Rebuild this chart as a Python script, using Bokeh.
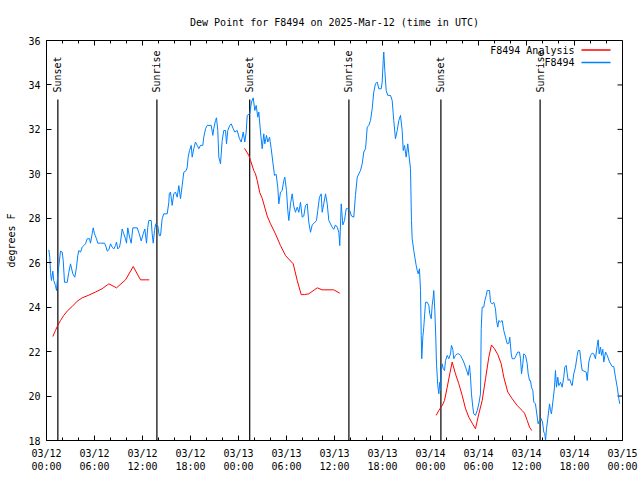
import math
from bokeh.plotting import figure
from bokeh.models import Range1d, FixedTicker, LinearAxis, ColumnDataSource
from bokeh.core.properties import value
from bokeh.embed import file_html
from bokeh.resources import INLINE

FONT = "DejaVu Sans Mono"
NAN = float("nan")

# ---------------- data (x = hours since 2025-03-12 00:00 UTC) ----------------
obs_hours = [0.29, 0.41, 0.5, 0.62, 0.79, 0.91, 1.12, 1.25, 1.41, 1.75, 1.96, 2.09, 2.25, 2.59, 2.79, 3.0,
             3.29, 3.54, 3.75, 3.91, 4.04, 4.25, 4.46, 4.66, 4.88, 5.09, 5.38, 5.5, 5.71, 5.84, 6.0, 6.25,
             6.41, 6.75, 7.25, 7.46, 7.59, 7.79, 8.0, 8.21, 8.41, 8.62, 8.75, 8.91, 9.12, 9.25, 9.46, 9.66,
             9.88, 10.0, 10.16, 10.38, 10.59, 10.79, 11.34, 11.59, 11.84, 12.09, 12.29, 12.5, 12.66, 12.79,
             13.09, 13.21, 13.34, 13.5, 13.66, 13.91, 14.09, 14.25, 14.46, 14.66, 15.09, 15.29, 15.35, 15.5,
             15.71, 15.91, 16.12, 16.34, 16.54, 16.75, 16.96, 17.16, 17.46, 17.59, 17.71, 17.88, 18.09, 18.21,
             18.41, 18.62, 18.84, 19.04, 19.25, 19.54, 19.66, 19.88, 20.09, 20.59, 20.79, 20.91, 21.12, 21.25,
             21.41, 21.54, 21.75, 21.96, 22.16, 22.38, 22.5, 22.66, 22.91, 23.09, 23.34, 23.54, 23.84, 24.12,
             24.34, 24.59, 24.79, 24.96, 25.09, 25.41, 25.62, 25.84, 26.04, 26.21, 26.41, 26.54, 26.75, 26.96,
             27.16, 27.29, 27.5, 27.66, 27.88, 28.09, 28.29, 28.5, 28.71, 28.91, 29.04, 29.25, 29.46, 29.66,
             29.79, 30.0, 30.16, 30.29, 30.5, 30.71, 30.91, 31.12, 31.34, 31.54, 31.75, 31.96, 32.16, 32.38,
             32.59, 32.79, 33.0, 33.21, 33.5, 33.75, 33.91, 34.12, 34.34, 34.46, 34.66, 34.88, 35.09, 35.29,
             35.5, 35.71, 35.91, 36.12, 36.34, 36.54, 36.66, 36.84, 37.04, 37.25, 37.46, 37.66, 37.91, 38.12,
             38.41, 38.62, 38.84, 39.04, 39.25, 39.46, 39.66, 39.88, 40.09, 40.29, 40.5, 40.71, 40.91, 41.12,
             41.34, 41.54, 41.84, 41.96, 42.09, 42.16, 42.29, 42.46, 42.66, 43.0, 43.21, 43.41, 43.62, 43.84,
             44.04, 44.25, 44.46, 44.59, 44.75, 44.96, 45.16, 45.29, 45.5, 45.62, 45.71, 45.91, 46.04, 46.21,
             46.34, 46.46, 46.62, 46.75, 46.84, 46.91, 47.04, 47.16, 47.38, 47.59, 47.79, 47.91, 48.09, 48.21,
             48.34, 48.41, 48.54, 48.66, 48.75, 48.91, 49.04, 49.16, 49.25, 49.34, 49.46, 49.59, 49.75, 49.88,
             50.09, 50.29, 50.5, 50.62, 50.79, 50.91, 51.12, 51.34, 51.54, 51.75, 51.96, 52.16, 52.38, 52.59,
             52.71, 52.88, 53.0, 53.12, 53.29, 53.41, 53.62, 53.84, 54.04, 54.25, 54.34, 54.46, 54.66, 54.79,
             54.96, 55.09, 55.38, 55.5, 55.71, 55.91, 56.12, 56.25, 56.41, 56.54, 56.75, 56.96, 57.16, 57.38,
             57.59, 57.79, 57.91, 58.09, 58.21, 58.5, 58.71, 58.91, 59.12, 59.25, 59.38, 59.54, 59.66, 59.88,
             60.09, 60.21, 60.38, 60.5, 60.62, 60.79, 60.91, 61.12, 61.34, 61.46, 61.62, 61.84, 62.0, 62.16,
             62.29, 62.38, 62.5, 62.66, 62.88, 63.0, 63.12, 63.34, 63.5, 63.62, 63.75, 63.91, 64.04, 64.25,
             64.46, 64.66, 64.79, 64.96, 65.09, 65.21, 65.38, 65.59, 65.71, 65.91, 66.12, 66.34, 66.46, 66.66,
             66.84, 66.96, 67.16, 67.46, 67.59, 67.79, 68.0, 68.21, 68.41, 68.62, 68.84, 68.96, 69.09, 69.25,
             69.38, 69.54, 69.66, 69.88, 70.09, 70.38, 70.71, 70.91, 71.12, 71.34, 71.54, 71.66]
obs_dewpt = [26.58, 26.25, 25.57, 25.2, 25.62, 25.2, 24.97, 24.75, 25.43, 26.52, 26.48, 26.1, 25.12, 25.12, 25.57, 25.95,
             25.5, 25.35, 25.8, 26.32, 26.55, 26.48, 26.7, 26.77, 26.85, 27.08, 27.08, 26.88, 27.3, 27.57, 27.3, 27.08,
             26.88, 26.88, 26.88, 26.7, 26.52, 26.58, 26.85, 26.7, 26.62, 26.77, 26.93, 26.62, 26.7, 26.93, 27.52, 27.3,
             27.08, 26.88, 27.57, 27.15, 26.88, 27.57, 27.57, 27.3, 26.98, 27.3, 27.52, 26.88, 27.6, 27.9,
             27.9, 27.3, 26.88, 27.45, 27.75, 27.67, 27.22, 27.22, 27.98, 28.2, 28.2, 28.72, 29.1, 29.18,
             28.58, 29.1, 29.18, 28.95, 29.47, 28.88, 29.47, 30.07, 30.15, 30.3, 30.75, 31.05, 31.28, 30.75,
             31.13, 31.43, 31.28, 31.13, 31.28, 31.28, 31.65, 32.03, 32.18, 32.18, 31.73, 32.03, 32.4, 32.52,
             31.95, 30.75, 30.45, 31.5, 31.95, 31.95, 31.35, 31.95, 32.18, 32.25, 32.03, 31.88, 31.95, 31.58,
             31.43, 31.88, 31.43, 31.88, 32.63, 32.7, 33.23, 33.42, 32.85, 33.08, 32.55, 32.78, 31.88, 31.13,
             31.8, 31.35, 31.73, 31.43, 31.65, 31.13, 30.53, 29.93, 29.98, 29.4, 28.65, 29.18, 29.25, 29.7,
             29.85, 29.25, 28.35, 27.9, 28.65, 29.1, 28.55, 28.27, 28.5, 28.27, 28.72, 28.05, 28.1, 28.58,
             28.65, 27.82, 27.37, 27.7, 27.8, 27.9, 28.35, 28.95, 29.1, 28.27, 28.65, 29.1, 28.65, 27.9,
             27.75, 27.6, 27.5, 27.7, 27.6, 27.37, 26.77, 28.65, 27.7, 27.9, 28.43, 28.43, 28.35, 28.1,
             28.05, 29.03, 29.85, 30.0, 30.15, 30.45, 30.98, 31.13, 32.1, 32.18, 32.4, 32.93, 33.68, 34.05,
             34.13, 33.83, 33.83, 34.13, 35.1, 35.48, 34.65, 33.75, 33.53, 33.53, 33.3, 32.4, 31.58, 31.95,
             32.4, 32.63, 31.95, 31.05, 31.28, 30.75, 31.35, 30.9, 30.23, 27.9, 27.08, 26.55, 26.25, 25.88,
             25.65, 25.5, 25.73, 24.75, 22.73, 21.68, 22.65, 23.1, 24.22, 24.22, 24.08, 23.7, 23.48, 24.08,
             24.45, 24.75, 23.85, 22.65, 21.45, 20.47, 20.1, 20.62, 20.25, 21.15, 21.45, 21.23, 21.15, 21.6,
             21.83, 21.68, 21.9, 22.28, 22.1, 21.68, 21.83, 21.9, 21.9, 21.83, 21.68, 21.53, 21.3, 21.08,
             20.93, 21.38, 20.85, 20.1, 19.5, 19.2, 19.13, 19.35, 19.65, 20.1, 23.03, 24.0, 24.0, 24.3,
             24.52, 24.75, 24.75, 24.22, 24.15, 24.22, 23.93, 23.4, 23.1, 23.4, 23.33, 23.4, 22.95, 22.65,
             22.35, 22.38, 22.65, 21.9, 21.68, 21.68, 21.83, 21.98, 21.98, 21.68, 21.0, 21.45, 21.9, 21.83,
             21.45, 21.0, 20.7, 20.7, 20.4, 20.25, 19.73, 19.65, 19.05, 18.75, 18.9, 18.98, 18.83, 18.38,
             18.3, 18.0, 18.53, 18.98, 19.65, 19.35, 19.2, 19.88, 20.4, 21.15, 20.4, 20.85, 20.47, 20.62,
             20.4, 20.85, 21.3, 21.38, 21.0, 20.7, 20.77, 20.55, 20.47, 21.0, 21.3, 21.83, 22.05, 22.05,
             21.45, 21.15, 21.13, 21.08, 20.7, 21.53, 21.83, 21.93, 21.9, 21.68, 22.28, 22.53, 21.9, 22.2,
             21.83, 22.1, 21.53, 21.98, 21.83, 21.53, 21.33, 21.33, 20.85, 20.4, 19.88, 19.65]

ana_hours = [0.79, 1.12, 1.41, 1.75, 2.16, 2.66, 3.21, 3.84, 4.46, 5.29, 6.12, 6.96, 7.79, 8.75, 9.88, 10.84,
             11.75, 12.84, NAN,
             24.75, 25.29, 25.5, 25.91, 26.12, 26.34, 26.66, 26.96, 27.59, 28.0, 28.62, 29.25, 29.88, 30.84,
             31.34, 31.84, 32.25, 32.79, 33.84, 34.46, 35.91, 36.66, NAN,
             48.71, 49.04, 49.46, 49.75, 50.09, 50.41, 50.71, 51.12, 51.54, 51.96, 52.38, 52.79, 53.21, 53.62,
             54.04, 54.46, 54.88, 55.29, 55.62, 56.0, 56.41, 56.84, 57.16, 57.66, 58.21, 58.84, 59.46, 59.75,
             60.09, 60.38, 60.66]
ana_dewpt = [22.68, 22.95, 23.18, 23.4, 23.63, 23.85, 24.03, 24.27, 24.42, 24.54, 24.68, 24.83, 25.05, 24.87, 25.23, 25.83,
             25.23, 25.23, NAN,
             31.15, 30.83, 30.6, 30.15, 30.0, 29.7, 29.15, 28.9, 28.1, 27.75, 27.3, 26.77, 26.32, 25.95,
             25.2, 24.56, 24.57, 24.6, 24.87, 24.78, 24.78, 24.63, NAN,
             19.13, 19.35, 19.57, 19.8, 20.4, 21.0, 21.53, 21.0, 20.55, 20.03, 19.43, 19.05, 18.78, 18.53,
             19.2, 19.8, 20.78, 21.75, 22.3, 22.13, 21.87, 21.45, 20.85, 20.18, 19.88, 19.57, 19.35, 19.23,
             18.9, 18.6, 18.45]

sun_hours = [1.42, 13.8, 25.4, 37.8, 49.3, 61.7]
sun_labels = ["Sunset", "Sunrise", "Sunset", "Sunrise", "Sunset", "Sunrise"]

x_tick_hours = [0, 6, 12, 18, 24, 30, 36, 42, 48, 54, 60, 66, 72]
x_tick_labels = ["03/12\n00:00", "03/12\n06:00", "03/12\n12:00", "03/12\n18:00",
                 "03/13\n00:00", "03/13\n06:00", "03/13\n12:00", "03/13\n18:00",
                 "03/14\n00:00", "03/14\n06:00", "03/14\n12:00", "03/14\n18:00",
                 "03/15\n00:00"]
x_minor_hours = list(range(0, 73, 2))
y_ticks = [18, 20, 22, 24, 26, 28, 30, 32, 34, 36]

series_names = ["F8494 Analysis", "F8494"]
series_colors = ["#ff0000", "#0080ff"]

X0, X1, Y0, Y1 = 0, 72, 18, 36

# ---------------- layout ----------------
W, H = 640, 480
BL, BR, BT, BB = 46, 18, 40, 40
FW, FH = W - BL - BR, H - BT - BB          # frame size in px
PX_X = (X1 - X0) / FW                      # data units per px
PX_Y = (Y1 - Y0) / FH

p = figure(width=W, height=H, output_backend="svg", toolbar_location=None,
           x_range=Range1d(X0, X1), y_range=Range1d(Y0, Y1),
           x_axis_type=None, y_axis_type=None,
           min_border_left=BL, min_border_right=BR, min_border_top=BT, min_border_bottom=BB,
           title="Dew Point for F8494 on 2025-Mar-12 (time in UTC)")
p.title.align = "center"
p.title.text_font = FONT
p.title.text_font_size = "10px"
p.title.text_font_style = "normal"
p.title.text_color = "black"
p.title.standoff = 25
p.grid.visible = False
p.outline_line_color = "black"
p.outline_line_width = 1
p.background_fill_color = "white"
p.border_fill_color = "white"

xt = FixedTicker(ticks=x_tick_hours, minor_ticks=x_minor_hours)
yt = FixedTicker(ticks=y_ticks, minor_ticks=[])


def style_axis(ax):
    ax.axis_line_color = "black"
    ax.major_tick_in = 5
    ax.major_tick_out = 0
    ax.minor_tick_in = 3
    ax.minor_tick_out = 0
    ax.major_tick_line_color = "black"
    ax.minor_tick_line_color = "black"
    ax.major_label_text_font = FONT
    ax.major_label_text_color = "black"
    ax.major_label_text_font_size = "10px"
    ax.major_label_standoff = 6


xb = LinearAxis(ticker=xt, major_label_overrides={h: s for h, s in zip(x_tick_hours, x_tick_labels)})
style_axis(xb)
xb.major_label_standoff = 7
p.add_layout(xb, "below")

yl = LinearAxis(ticker=yt, axis_label="degrees F")
style_axis(yl)
yl.axis_label_text_font = FONT
yl.axis_label_text_font_size = "10px"
yl.axis_label_text_font_style = "normal"
yl.axis_label_text_color = "black"
yl.axis_label_standoff = 8
p.add_layout(yl, "left")

# mirrored ticks on top and right border (gnuplot style)
top_major = ColumnDataSource(dict(x=x_tick_hours, y0=[Y1] * len(x_tick_hours),
                                  y1=[Y1 - 5 * PX_Y] * len(x_tick_hours)))
top_minor = ColumnDataSource(dict(x=x_minor_hours, y0=[Y1] * len(x_minor_hours),
                                  y1=[Y1 - 3 * PX_Y] * len(x_minor_hours)))
right_major = ColumnDataSource(dict(y=y_ticks, x0=[X1] * len(y_ticks), x1=[X1 - 5 * PX_X] * len(y_ticks)))
p.segment(x0="x", y0="y0", x1="x", y1="y1", source=top_major, line_color="black", line_width=1)
p.segment(x0="x", y0="y0", x1="x", y1="y1", source=top_minor, line_color="black", line_width=1)
p.segment(x0="x0", y0="y", x1="x1", y1="y", source=right_major, line_color="black", line_width=1)

# sunrise / sunset markers
line_top = Y1 - 59 * PX_Y
label_bottom = Y1 - 52 * PX_Y
sun_src = ColumnDataSource(dict(x=sun_hours, y0=[line_top] * len(sun_hours), y1=[Y0] * len(sun_hours),
                                ty=[label_bottom] * len(sun_hours), label=sun_labels))
p.segment(x0="x", y0="y0", x1="x", y1="y1", source=sun_src, line_color="black", line_width=1.2)
p.text(x="x", y="ty", text="label", source=sun_src, angle=math.pi / 2, text_align="left",
       text_baseline="middle", text_font=value(FONT), text_font_size="10px", text_color="black")

# data lines
p.line(ana_hours, ana_dewpt, line_color=series_colors[0], line_width=1)
p.line(obs_hours, obs_dewpt, line_color=series_colors[1], line_width=1)

# legend (gnuplot style: label right-aligned, sample line at right)
leg_text_x = X1 - 48 * PX_X
leg_x0 = X1 - 41 * PX_X
leg_x1 = X1 - 12 * PX_X
leg_ys = [Y1 - 9.5 * PX_Y, Y1 - 22 * PX_Y]
leg_src = ColumnDataSource(dict(tx=[leg_text_x] * 2, ty=leg_ys, label=series_names,
                                x0=[leg_x0] * 2, x1=[leg_x1] * 2, color=series_colors))
p.text(x="tx", y="ty", text="label", source=leg_src, text_align="right", text_baseline="middle",
       text_font=value(FONT), text_font_size="10px", text_color="black")
p.segment(x0="x0", y0="ty", x1="x1", y1="ty", source=leg_src, line_color="color", line_width=1.5)

open("out.html", "w").write(file_html(p, INLINE))
